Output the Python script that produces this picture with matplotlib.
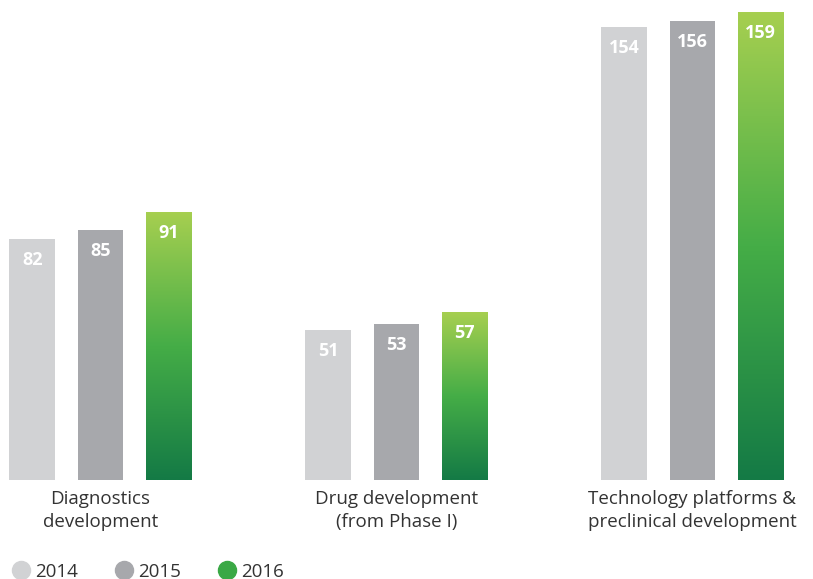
import matplotlib.pyplot as plt
import numpy as np
from matplotlib.colors import LinearSegmentedColormap
from matplotlib.lines import Line2D

plt.rcParams['font.family'] = ['Open Sans', 'DejaVu Sans']

# Datos
categorias = ['Diagnostics\ndevelopment', 'Drug development\n(from Phase I)',
              'Technology platforms &\npreclinical development']
anios = ['2014', '2015', '2016']
v2014 = [82, 51, 154]
v2015 = [85, 53, 156]
v2016 = [91, 57, 159]

gris_claro = '#d1d2d4'
gris_oscuro = '#a7a8ac'
verde = LinearSegmentedColormap.from_list('verde', ['#a6cf50', '#45ad47', '#147a45'])

fig = plt.figure(figsize=(8.13, 5.79), dpi=100)
ax = fig.add_axes([0, 99 / 579, 1, 480 / 579])

x = np.arange(len(categorias))
ancho = 0.155
paso = 0.23

b1 = ax.bar(x - paso, v2014, ancho, color=gris_claro)
b2 = ax.bar(x, v2015, ancho, color=gris_oscuro)
b3 = ax.bar(x + paso, v2016, ancho, color='none')

# degradado verde dentro de cada barra 2016
grad = np.linspace(0, 1, 256).reshape(-1, 1)
for barra in b3:
    x0, y0 = barra.get_x(), barra.get_y()
    im = ax.imshow(grad, cmap=verde, aspect='auto', origin='upper',
                   extent=[x0, x0 + barra.get_width(), y0, y0 + barra.get_height()],
                   zorder=2)
    im.set_clip_path(barra)

for grupo in (b1, b2, b3):
    for barra in grupo:
        ax.annotate(f'{barra.get_height():.0f}',
                    (barra.get_x() + barra.get_width() / 2, barra.get_height()),
                    xytext=(0, -15), textcoords='offset points',
                    ha='center', va='center', color='white',
                    fontsize=13, fontweight='bold', zorder=3)

for xi, cat in zip(x, categorias):
    ax.annotate(cat, (xi, 0), xytext=(0, -7), textcoords='offset points',
                ha='center', va='top', fontsize=13.5, color='#333333',
                linespacing=1.4)

ax.set_xlim(-100.5 / 296, (813 - 100.5) / 296)
ax.set_ylim(0, 480 / 2.943)
ax.axis('off')

handles = [Line2D([], [], marker='o', ls='', markersize=13, color=c)
           for c in (gris_claro, gris_oscuro, '#3aa845')]
fig.legend(handles, anios, loc='center left', bbox_to_anchor=(-0.006, 7 / 579),
           ncol=3, frameon=False, fontsize=13.5, handlelength=1.0,
           handletextpad=0.25, columnspacing=1.95, labelcolor='#333333')

fig.savefig('out.png', dpi=100)
